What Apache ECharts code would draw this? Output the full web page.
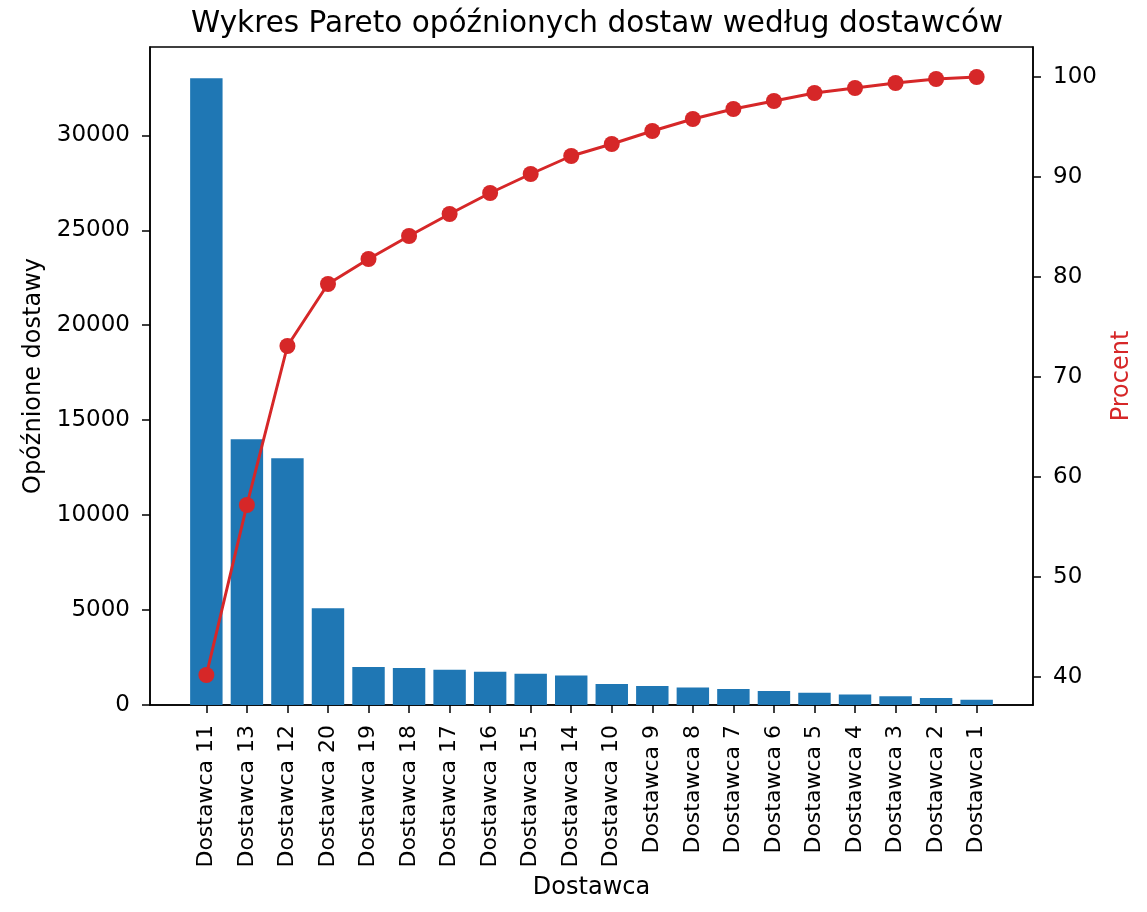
<!DOCTYPE html>
<html lang="pl">

<head>
    <meta charset="UTF-8">
    <title>Wykres Pareto</title>
    <script src="https://cdn.jsdelivr.net/npm/echarts/dist/echarts.min.js"></script>
    <style>
        html, body { margin: 0; padding: 0; background: #fff; }
    </style>
</head>

<body>
    <div id="chart" style="width: 1147px; height: 912px;"></div>
    <script>
        // dostawcy posortowani malejąco wg opóźnień
        const suppliers = ['Dostawca 11', 'Dostawca 13', 'Dostawca 12', 'Dostawca 20', 'Dostawca 19',
            'Dostawca 18', 'Dostawca 17', 'Dostawca 16', 'Dostawca 15', 'Dostawca 14', 'Dostawca 10',
            'Dostawca 9', 'Dostawca 8', 'Dostawca 7', 'Dostawca 6', 'Dostawca 5', 'Dostawca 4',
            'Dostawca 3', 'Dostawca 2', 'Dostawca 1'];
        const delays = [33000, 14000, 13000, 5100, 2000, 1950, 1850, 1750, 1650, 1550,
            1100, 1000, 920, 840, 740, 640, 550, 460, 370, 280];
        const cumulativePct = [40.2, 57.2, 73.1, 79.3, 81.8, 84.1, 86.3, 88.4, 90.3, 92.1,
            93.3, 94.6, 95.8, 96.8, 97.6, 98.4, 98.9, 99.4, 99.8, 100];
        const leftTicks = [0, 5000, 10000, 15000, 20000, 25000, 30000];
        const rightTicks = [40, 50, 60, 70, 80, 90, 100];

        const positions = suppliers.map((s, i) => i);
        const barData = delays.map((v, i) => [i, v]);
        const lineData = cumulativePct.map((v, i) => [i, v]);

        const font = 'DejaVu Sans';
        const chart = echarts.init(document.getElementById('chart'));

        const options = {
            animation: false,
            backgroundColor: '#fff',
            textStyle: { fontFamily: font, color: '#000' },
            title: {
                text: 'Wykres Pareto opóźnionych dostaw według dostawców',
                left: 186,
                top: 4,
                textStyle: { fontFamily: font, fontSize: 29.5, fontWeight: 'normal', color: '#000' }
            },
            grid: {
                left: 150, right: 114, top: 47, bottom: 207,
                show: true, borderColor: '#000', borderWidth: 1.5,
                containLabel: false, outerBoundsMode: 'none'
            },
            xAxis: {
                type: 'value',
                min: -1.39,
                max: 20.39,
                name: 'Dostawca',
                nameLocation: 'middle',
                nameGap: 168,
                nameTextStyle: { fontFamily: font, fontSize: 24, color: '#000' },
                splitLine: { show: false },
                axisLine: { show: true, onZero: false, lineStyle: { color: '#000', width: 1.5 } },
                axisTick: { show: true, length: 8, customValues: positions, lineStyle: { color: '#000', width: 1.5 } },
                axisLabel: {
                    customValues: positions,
                    rotate: 90,
                    margin: 20,
                    fontFamily: font,
                    fontSize: 22,
                    color: '#000',
                    formatter: v => suppliers[Math.round(v)]
                }
            },
            yAxis: [
                {
                    type: 'value',
                    min: 0,
                    max: 34650,
                    name: 'Opóźnione dostawy',
                    nameLocation: 'middle',
                    nameRotate: 90,
                    nameGap: 94,
                    nameTextStyle: { fontFamily: font, fontSize: 24, color: '#000' },
                    splitLine: { show: false },
                    axisLine: { show: true, onZero: false, lineStyle: { color: '#000', width: 1.5 } },
                    axisTick: { show: true, length: 8, customValues: leftTicks, lineStyle: { color: '#000', width: 1.5 } },
                    axisLabel: {
                        customValues: leftTicks, margin: 20, fontFamily: font, fontSize: 23, color: '#000',
                        formatter: v => String(v)
                    }
                },
                {
                    type: 'value',
                    min: 37.2,
                    max: 103.0,
                    position: 'right',
                    name: 'Procent',
                    nameLocation: 'middle',
                    nameRotate: 90,
                    nameGap: 77,
                    nameTextStyle: { fontFamily: font, fontSize: 24, color: '#d62728' },
                    splitLine: { show: false },
                    axisLine: { show: true, onZero: false, lineStyle: { color: '#000', width: 1.5 } },
                    axisTick: { show: true, length: 8, customValues: rightTicks, lineStyle: { color: '#000', width: 1.5 } },
                    axisLabel: {
                        customValues: rightTicks, margin: 20, fontFamily: font, fontSize: 23, color: '#000',
                        formatter: v => String(v)
                    }
                }
            ],
            series: [
                {
                    name: 'Opóźnione dostawy',
                    type: 'bar',
                    data: barData,
                    barWidth: '80%',
                    itemStyle: { color: '#1f77b4' }
                },
                {
                    name: 'Procent',
                    type: 'line',
                    yAxisIndex: 1,
                    data: lineData,
                    symbol: 'circle',
                    symbolSize: 16,
                    lineStyle: { color: '#d62728', width: 3 },
                    itemStyle: { color: '#d62728' },
                    z: 3
                }
            ]
        };

        chart.setOption(options);
    </script>
</body>

</html>
